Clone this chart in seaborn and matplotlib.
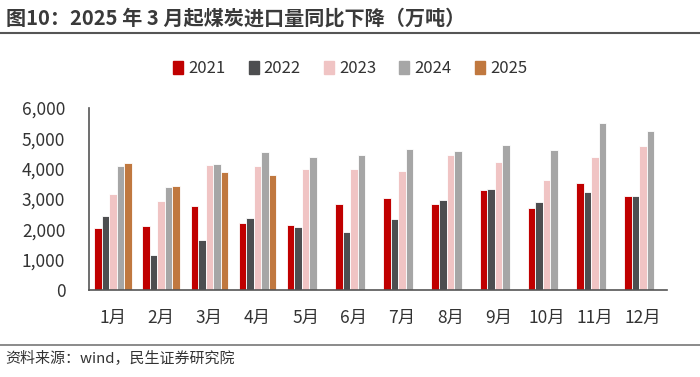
import pandas as pd
import seaborn as sns
import matplotlib.pyplot as plt
from matplotlib.ticker import FuncFormatter
from matplotlib.lines import Line2D

# data (万吨)
months = [f"{i}月" for i in range(1, 13)]
years = ["2021", "2022", "2023", "2024", "2025"]
v2021 = [2055, 2100, 2760, 2200, 2130, 2845, 3035, 2815, 3305, 2705, 3515, 3110]
v2022 = [2420, 1145, 1660, 2385, 2065, 1900, 2350, 2955, 3320, 2910, 3230, 3090]
v2023 = [3155, 2925, 4130, 4080, 3980, 3990, 3925, 4440, 4220, 3615, 4365, 4735]
v2024 = [4075, 3375, 4155, 4540, 4395, 4460, 4635, 4580, 4760, 4625, 5505, 5245]
v2025 = [4175, 3440, 3880, 3790]
colors = ["#C00000", "#4D4E50", "#F0C4C4", "#A6A6A6", "#C0783F"]

rows = []
for y, vals in zip(years, [v2021, v2022, v2023, v2024, v2025]):
    for m, v in zip(months, vals):
        rows.append({"month": m, "year": y, "value": v})
df = pd.DataFrame(rows)

sns.set_style("white")
plt.rcParams['font.family'] = ['Noto Sans CJK SC', 'DejaVu Sans']

fig = plt.figure(figsize=(7, 3.77), dpi=100)
ax = fig.add_axes([0.127, 0.231, 0.826, 0.483])

sns.barplot(data=df, x="month", y="value", hue="year", order=months,
            hue_order=years, palette=colors, width=0.78, saturation=1,
            edgecolor="white", linewidth=0.6, ax=ax, legend=False)

ax.set_ylim(0, 6000)
ax.set_yticks(range(0, 6001, 1000))
ax.yaxis.set_major_formatter(FuncFormatter(lambda v, p: f"{int(v):,}"))
ax.set_xlabel("")
ax.set_ylabel("")
ax.tick_params(axis="both", length=0, labelsize=12.5, colors="#333333")
ax.tick_params(axis="x", pad=14)
ax.tick_params(axis="y", pad=17)
for s in ["top", "right"]:
    ax.spines[s].set_visible(False)
for s in ["left", "bottom"]:
    ax.spines[s].set_color("#555555")
    ax.spines[s].set_linewidth(1.2)

# legend
handles = [plt.Rectangle((0, 0), 1, 1, color=c) for c in colors]
fig.legend(handles, years, loc="center", bbox_to_anchor=(0.5, 0.817), ncol=5,
           frameon=False, fontsize=12, handlelength=0.6, handleheight=0.8,
           handletextpad=0.3, columnspacing=1.4, labelcolor="#333333")

# title and source
fig.text(0.008, 0.953, "图10：2025 年 3 月起煤炭进口量同比下降（万吨）",
         fontsize=14.5, fontweight="bold", color="#3a3a3a", va="center")
fig.add_artist(Line2D([0, 1], [0.912, 0.912], color="#555555", lw=1.5))
fig.add_artist(Line2D([0, 1], [0.085, 0.085], color="#777777", lw=1.2))
fig.text(0.008, 0.048, "资料来源：wind，民生证券研究院", fontsize=10.8,
         color="#333333", va="center")

fig.savefig("out.png", dpi=100)
